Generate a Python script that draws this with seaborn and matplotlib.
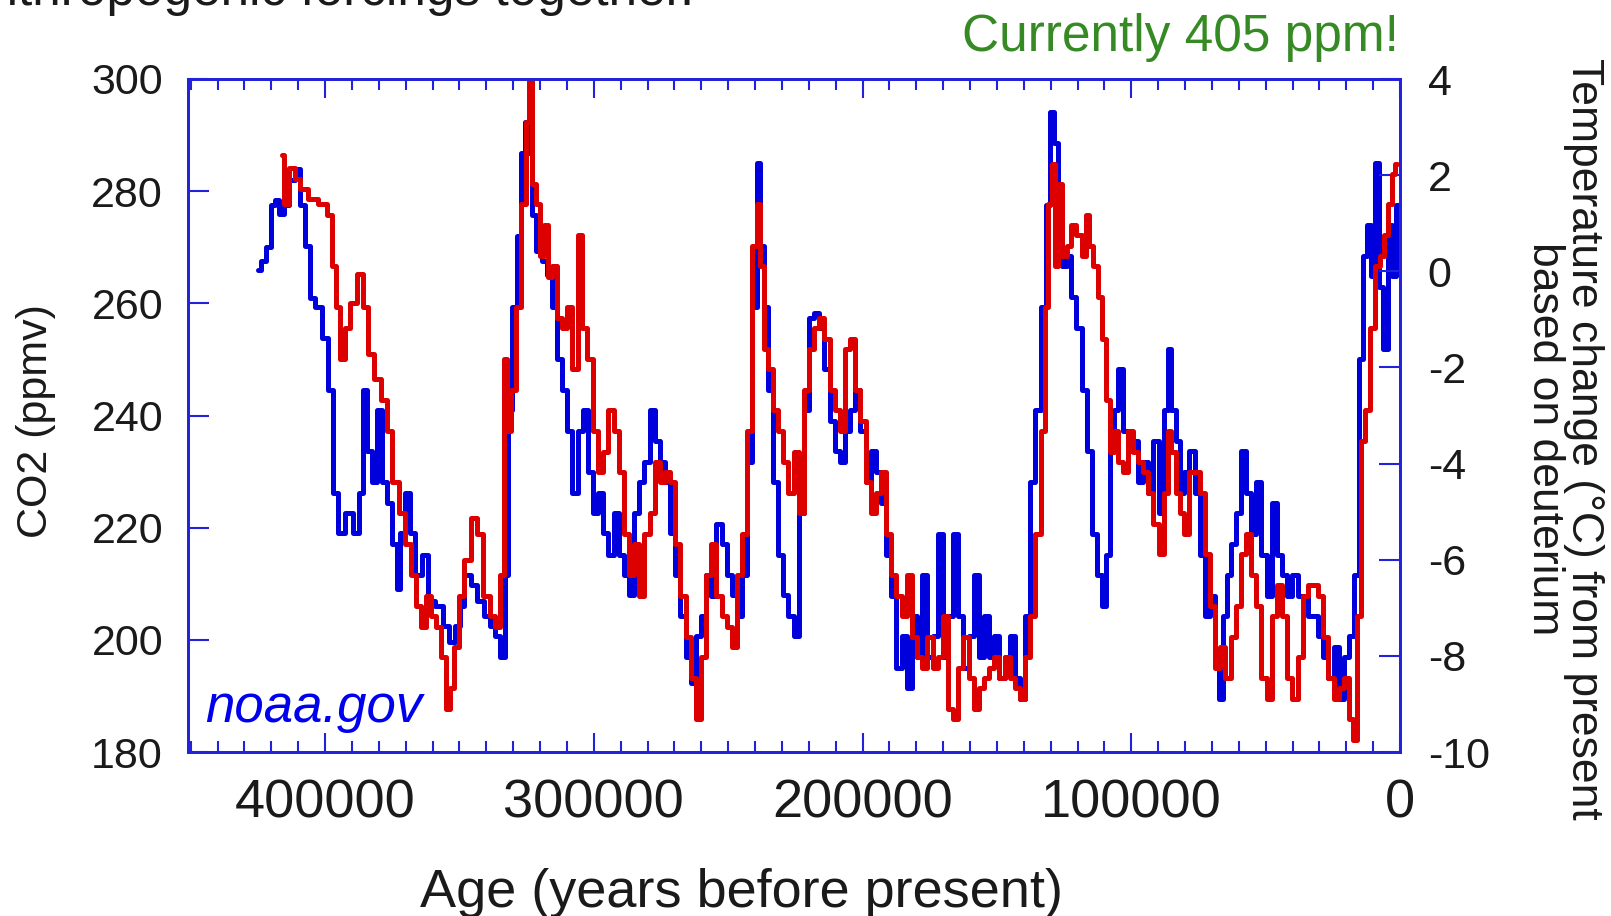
import numpy as np
import pandas as pd
import matplotlib
matplotlib.use("Agg")
import matplotlib.pyplot as plt
import seaborn as sns
from matplotlib.ticker import MultipleLocator

# ---------------- data ----------------
co2_age_kyr = [
    424.9, 422.6, 421.1, 419.5, 418.0, 416.1, 414.2, 412.3, 410.4, 408.4,
    406.5, 404.6, 402.7, 399.6, 398.1, 395.8, 394.3, 391.2, 388.2, 386.6,
    385.1, 383.6, 381.7, 379.7, 377.8, 375.9, 374.0, 372.8, 371.3, 369.0,
    367.5, 365.2, 362.5, 360.6, 357.5, 354.9, 352.9, 350.6, 349.1, 347.2,
    344.5, 342.2, 339.5, 337.6, 335.7, 333.8, 332.3, 331.5, 329.2, 328.1,
    326.1, 325.0, 323.8, 322.3, 320.4, 318.5, 316.6, 314.7, 312.7, 310.8,
    308.9, 307.0, 305.1, 303.2, 301.3, 299.3, 297.4, 295.5, 293.6, 291.7,
    289.8, 287.9, 286.0, 284.1, 282.1, 280.2, 278.3, 276.4, 274.5, 272.6,
    270.7, 268.8, 266.8, 264.9, 263.0, 261.1, 259.2, 257.3, 255.4, 253.4,
    251.5, 249.6, 247.7, 245.8, 243.9, 242.0, 240.0, 238.9, 237.4, 236.2,
    234.3, 232.4, 230.5, 228.6, 226.6, 224.7, 222.8, 220.9, 219.0, 217.1,
    215.2, 213.2, 211.3, 209.4, 207.5, 205.6, 203.7, 201.8, 199.8, 197.9,
    196.0, 194.1, 192.2, 190.3, 188.4, 186.4, 184.5, 182.6, 180.7, 178.8,
    176.9, 174.9, 173.0, 171.1, 169.2, 167.3, 165.4, 163.5, 161.5, 159.6,
    157.7, 155.8, 153.9, 152.0, 150.1, 148.1, 146.2, 144.3, 142.4, 140.5,
    138.6, 136.7, 134.7, 132.8, 130.9, 129.4, 127.9, 126.4, 124.8, 123.3,
    121.4, 119.5, 117.5, 115.6, 113.7, 111.8, 109.9, 108.7, 107.2, 105.7,
    104.1, 102.2, 100.3, 98.4, 96.5, 94.6, 92.7, 90.8, 88.8, 86.9,
    85.8, 84.3, 82.7, 81.2, 79.3, 77.4, 75.4, 73.5, 71.6, 69.7,
    67.8, 66.6, 65.1, 63.6, 62.0, 60.1, 58.2, 56.3, 54.4, 52.5,
    50.6, 48.6, 46.7, 44.8, 42.9, 41.0, 39.1, 37.1, 35.2, 33.3,
    31.4, 29.5, 27.6, 25.7, 23.7, 21.8, 19.9, 18.0, 16.1, 14.2,
    13.0, 11.5, 9.9, 8.4, 6.9, 5.4, 3.8, 2.3, 0.8,
]
co2_ppmv = [
    266, 267.5, 270, 277.6, 278.5, 276, 277.6, 282, 284, 277.6,
    270.3, 261, 259.3, 253.8, 244.6, 226.2, 219, 222.6, 219, 226.2,
    244.6, 233.6, 228.1, 240.9, 228.1, 224.4, 217, 209, 219, 226.2,
    219, 211.6, 215.2, 207, 206.1, 202.4, 199.6, 202.4, 206.1, 211.6,
    209.7, 207, 204.2, 202.4, 200.6, 197, 211.6, 241, 259.3, 272,
    286.8, 292.3, 286.8, 275.8, 269.4, 267.5, 265, 259.3, 250.1, 244.6,
    237.2, 226.2, 237.2, 241, 230, 222.6, 226.2, 219, 215.2, 222.6,
    215.2, 211.6, 208, 222.6, 228.1, 231.7, 241, 235.4, 231.7, 228.1,
    219, 211.6, 204.2, 197, 192.3, 200.6, 204.2, 211.6, 207.9, 220.7,
    217, 211.6, 208, 204.2, 211.6, 231.7, 259.3, 285, 270.3, 259.3,
    244.6, 228.1, 215.2, 208, 204.2, 200.6, 222.6, 240.9, 257.4, 258.3,
    255.6, 248.3, 239, 233.6, 231.7, 237.2, 240.9, 244.6, 237.2, 228.1,
    233.6, 229.9, 224.4, 215.2, 207.9, 195, 200.6, 191.4, 204.2, 197,
    211.6, 197, 200.6, 218.9, 197, 204.2, 218.9, 204.2, 195, 200.6,
    211.6, 197, 204.2, 197, 200.6, 193.2, 197, 200.6, 193.2, 189.5,
    204.2, 228.1, 240.9, 259.3, 277.6, 294.1, 288.6, 272.1, 266.6, 268.4,
    261.1, 255.6, 244.6, 233.6, 218.9, 211.6, 206.1, 215.2, 237.2, 240.9,
    248.3, 237.2, 233.6, 235.4, 228.1, 231.7, 226.2, 235.4, 222.6, 240.9,
    251.9, 240.9, 235.4, 226.2, 229.9, 233.6, 226.2, 215.2, 204.2, 207.9,
    196.9, 189.5, 204.2, 211.6, 217.1, 222.6, 233.6, 226.2, 218.9, 228.1,
    215.2, 207.9, 224.4, 215.2, 211.6, 207.9, 211.6, 207.9, 207.9, 204.2,
    204.2, 200.6, 196.9, 193.2, 198.7, 189.5, 196.9, 200.6, 211.6, 250.1,
    268.4, 273.9, 264.8, 285, 262.9, 251.9, 273.9, 264.8, 277.6,
]

temp_age_kyr = [
    416.1, 414.2, 412.3, 410.4, 408.4, 404.6, 400.8, 398.1, 396.6, 395.1,
    393.5, 392.0, 389.3, 386.6, 385.1, 382.8, 380.5, 377.8, 375.9, 374.0,
    371.3, 369.0, 367.1, 365.2, 363.7, 361.4, 359.9, 357.5, 356.0, 354.1,
    353.0, 351.1, 349.1, 347.2, 344.5, 342.2, 339.9, 337.6, 335.7, 333.8,
    333.1, 331.5, 330.0, 328.1, 326.1, 324.6, 323.8, 322.3, 320.8, 319.3,
    317.7, 316.2, 314.7, 312.7, 310.8, 308.9, 307.0, 305.1, 303.9, 301.3,
    299.3, 297.4, 295.5, 293.6, 291.7, 289.8, 287.9, 286.0, 284.1, 282.1,
    280.2, 278.3, 276.4, 274.5, 272.6, 270.7, 268.8, 266.8, 264.9, 263.0,
    261.1, 259.2, 257.3, 255.4, 253.4, 251.5, 249.6, 247.7, 245.8, 243.9,
    242.0, 240.0, 238.9, 237.4, 235.8, 234.3, 232.4, 230.5, 228.6, 226.6,
    224.7, 222.8, 220.9, 219.0, 217.1, 215.2, 213.2, 211.3, 209.4, 207.5,
    205.6, 203.7, 201.8, 199.8, 197.9, 196.0, 194.1, 192.2, 190.3, 188.4,
    186.4, 184.5, 182.6, 180.7, 178.8, 176.9, 174.9, 173.0, 171.1, 169.2,
    167.3, 165.4, 163.5, 161.5, 159.6, 157.7, 155.8, 153.9, 152.0, 150.1,
    148.1, 146.2, 144.3, 142.4, 140.5, 138.6, 136.7, 134.7, 132.8, 131.7,
    130.2, 129.0, 127.9, 126.4, 124.8, 123.3, 121.4, 119.5, 117.5, 116.4,
    114.9, 113.3, 111.8, 110.3, 108.7, 107.2, 105.7, 104.1, 102.2, 100.3,
    98.4, 96.5, 94.6, 92.7, 90.8, 88.8, 86.9, 85.8, 84.3, 82.7,
    81.2, 79.3, 77.4, 75.4, 73.5, 71.6, 69.7, 67.8, 65.9, 64.0,
    62.0, 60.1, 58.2, 56.3, 54.4, 52.5, 50.6, 48.6, 46.7, 44.8,
    42.9, 41.0, 39.1, 37.1, 35.2, 33.3, 31.4, 29.5, 27.6, 25.7,
    23.7, 21.8, 19.9, 18.0, 16.9, 15.3, 13.8, 12.2, 10.3, 8.4,
    6.5, 5.4, 3.8, 2.3, 1.1,
]
temp_change_c = [
    2.42, 1.39, 2.14, 1.92, 1.71, 1.50, 1.39, 1.18, 0.10, -0.75,
    -1.82, -1.18, -0.65, -0.05, -0.75, -1.72, -2.25, -2.68, -3.32, -4.39,
    -5.03, -5.68, -6.32, -6.96, -7.39, -6.75, -7.18, -7.39, -8.03, -9.10,
    -8.67, -7.82, -6.75, -6.00, -5.14, -5.46, -6.75, -7.18, -7.39, -6.32,
    -1.82, -3.32, -2.47, -0.75, 1.39, 3.10, 3.96, 1.82, 1.39, 0.32,
    0.96, -0.11, 0.10, -0.97, -1.18, -0.75, -2.04, 0.75, -1.18, -1.82,
    -3.32, -4.18, -3.75, -2.89, -3.32, -4.18, -5.46, -6.32, -5.68, -6.75,
    -5.46, -5.03, -3.96, -4.39, -4.18, -4.39, -5.68, -6.75, -7.60, -8.46,
    -9.32, -8.03, -6.32, -5.68, -6.75, -7.18, -7.39, -7.82, -6.32, -5.46,
    -3.32, 0.53, 1.39, 0.10, -1.61, -2.04, -2.89, -3.32, -3.96, -4.61,
    -3.75, -5.03, -2.47, -1.61, -1.18, -0.97, -1.40, -2.47, -2.89, -3.32,
    -1.61, -1.40, -2.47, -3.11, -4.39, -5.03, -4.61, -4.18, -5.46, -6.32,
    -6.75, -7.18, -6.32, -7.60, -8.03, -8.25, -7.60, -8.25, -8.03, -7.18,
    -9.10, -9.32, -8.25, -7.60, -8.46, -9.10, -8.67, -8.46, -8.25, -8.03,
    -8.46, -8.03, -8.46, -8.67, -8.89, -8.03, -7.18, -5.46, -3.32, -0.75,
    1.39, 2.24, 0.10, 1.82, 0.32, 0.53, 0.96, 0.75, 0.32, 1.18,
    0.53, 0.10, -0.54, -1.40, -2.68, -3.75, -3.32, -3.96, -4.18, -3.32,
    -3.75, -3.96, -4.18, -4.61, -5.25, -5.89, -4.61, -3.32, -3.75, -4.61,
    -5.03, -5.46, -4.18, -4.18, -4.61, -5.89, -6.96, -8.25, -7.82, -8.46,
    -7.60, -6.96, -5.89, -5.46, -6.32, -6.96, -8.46, -8.89, -7.18, -6.53,
    -7.18, -8.46, -8.89, -8.03, -6.75, -6.53, -6.53, -6.75, -7.60, -8.46,
    -8.89, -8.67, -8.46, -9.32, -9.74, -7.18, -3.54, -2.89, -1.18, 0.10,
    0.32, 0.75, 1.39, 2.03, 2.24,
]

x_tick_values = [400000, 300000, 200000, 100000, 0]
x_tick_labels = ["400000", "300000", "200000", "100000", "0"]
co2_ticks = [180, 200, 220, 240, 260, 280, 300]
temp_ticks = [-10, -8, -6, -4, -2, 0, 2, 4]

# ---------------- style ----------------
BLUE = "#0000dd"
RED = "#dd0000"
SPINE = "#2222dd"
GREEN = "#358a24"
TXT = "#1a1a1a"

sns.set_style("white")
plt.rcParams["font.family"] = ["Liberation Sans", "DejaVu Sans"]

W, H = 1611, 916
fig = plt.figure(figsize=(W / 100, H / 100), dpi=100)
ax = fig.add_axes([188 / W, 1 - 752 / H, (1400 - 188) / W, (752 - 79) / H])

co2_df = pd.DataFrame({"age": np.array(co2_age_kyr) * 1000, "co2": co2_ppmv})
temp_df = pd.DataFrame({"age": np.array(temp_age_kyr) * 1000, "temp": temp_change_c})

sns.lineplot(data=co2_df, x="age", y="co2", ax=ax, color=BLUE, linewidth=3.6,
             sort=False, estimator=None, drawstyle="steps-mid")
ax2 = ax.twinx()
sns.lineplot(data=temp_df, x="age", y="temp", ax=ax2, color=RED, linewidth=3.6,
             sort=False, estimator=None, drawstyle="steps-mid")

ax.set_xlim(451000, 0)
ax.set_ylim(180, 300)
ax2.set_ylim(-10, 4)
for a in (ax, ax2):
    a.set_xlabel("")
    a.set_ylabel("")
    for sp in a.spines.values():
        sp.set_color(SPINE)
        sp.set_linewidth(2.0)
        sp.set_visible(True)

ax.set_xticks(x_tick_values)
ax.set_xticklabels(x_tick_labels)
ax.xaxis.set_minor_locator(MultipleLocator(10000))
ax.set_yticks(co2_ticks)
ax.set_yticklabels([str(v) for v in co2_ticks])
ax2.set_yticks(temp_ticks)
ax2.set_yticklabels([str(v) for v in temp_ticks])

ax.tick_params(axis="x", which="both", direction="in", top=True, bottom=True,
               color=SPINE, width=1.5, labelsize=39, labelcolor=TXT, pad=19)
ax.tick_params(axis="x", which="major", length=14)
ax.tick_params(axis="x", which="minor", length=8)
ax.tick_params(axis="y", which="major", direction="in", left=True, right=False,
               length=15, width=1.5, color=SPINE, labelsize=31, labelcolor=TXT, pad=18)
ax2.tick_params(axis="y", which="major", direction="in", right=True, left=False,
                length=15, width=1.5, color=SPINE, labelsize=31, labelcolor=TXT, pad=20)

# ---------------- texts ----------------
fig.text(741 / W, 1 - 907 / H, "Age (years before present)", ha="center", va="baseline",
         fontsize=39, color=TXT)
fig.text(36 / W, 1 - 421 / H, "CO2 (ppmv)", rotation=90, ha="center", va="center",
         fontsize=31, color=TXT)
fig.text(1564 / W, 1 - 439 / H,
         "Temperature change (°C) from present\nbased on deuterium",
         rotation=-90, ha="center", va="center", multialignment="center",
         fontsize=32, color=TXT, linespacing=0.95)
fig.text(1399 / W, 1 - 51 / H, "Currently 405 ppm!", ha="right", va="baseline",
         fontsize=37, color=GREEN)
fig.text(694 / W, 1 - 5 / H, "anthropogenic forcings together.", ha="right",
         va="baseline", fontsize=37, color=TXT)
ax.text(205 / W, 1 - 722 / H, "noaa.gov", transform=fig.transFigure, ha="left",
        va="baseline", fontsize=38, style="italic", color="#0000ee", zorder=1)

fig.savefig("out.png", dpi=100)
